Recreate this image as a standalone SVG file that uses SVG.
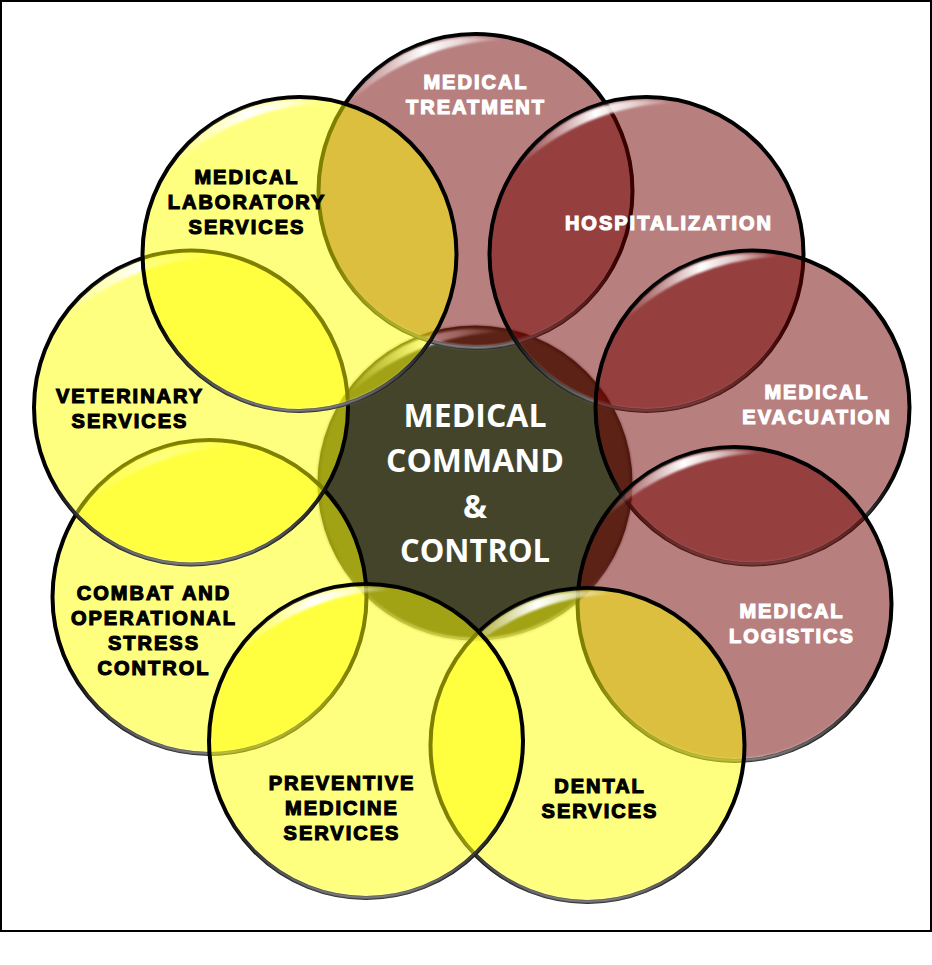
<svg xmlns="http://www.w3.org/2000/svg" width="932" height="965" viewBox="0 0 932 965">
<style>
.red{fill:#710000;fill-opacity:.5;stroke:#000;stroke-width:4}
.yel{fill:#ffff00;fill-opacity:.5;stroke:#000;stroke-width:4}
.lbl{font-family:"Liberation Sans",Arial,sans-serif;font-weight:700;font-size:20px;letter-spacing:2px;text-anchor:middle;stroke-width:1.2px}
.w{fill:#fff;stroke:#fff}
.k{fill:#000;stroke:#000}
.ctr{font-family:"Open Sans","Noto Sans",sans-serif;font-weight:700;font-size:32px;text-anchor:middle;fill:#fff}
</style>
<defs>
<linearGradient id="hl" x1="-130" y1="0" x2="28" y2="0" gradientUnits="userSpaceOnUse">
<stop offset="0" stop-color="#fff" stop-opacity="0"/>
<stop offset=".25" stop-color="#fff" stop-opacity=".45"/>
<stop offset=".5" stop-color="#fff" stop-opacity="1"/>
<stop offset=".72" stop-color="#fff" stop-opacity=".7"/>
<stop offset="1" stop-color="#fff" stop-opacity="0"/>
</linearGradient>
<linearGradient id="rim" x1="0" y1="-157" x2="0" y2="157" gradientUnits="userSpaceOnUse">
<stop offset=".72" stop-color="#fff" stop-opacity="0"/>
<stop offset="1" stop-color="#fff" stop-opacity=".6"/>
</linearGradient>
<filter id="b1" x="-20%" y="-20%" width="140%" height="140%"><feGaussianBlur stdDeviation="1"/></filter>
<g id="gloss">
<path d="M-130-85A154 154 0 0 1 28-151A235 235 0 0 0-130-85Z" fill="url(#hl)" filter="url(#b1)"/>
<circle r="156.5" fill="none" stroke="url(#rim)" stroke-width="3" filter="url(#b1)"/>
</g>
</defs>
<rect id="frame" x="1" y="1" width="930" height="930" fill="#fff" stroke="#000" stroke-width="2"/>
<g id="connectors"/>
<g id="node-center">
<circle cx="475" cy="483" r="157.5" fill="#44442a"/>
<circle cx="475" cy="483" r="156.5" fill="none" stroke="#000" stroke-opacity=".35" stroke-width="3" filter="url(#b1)"/>
<use href="#gloss" x="475" y="483"/>
</g>
<g id="node-treatment">
<circle class="red" cx="475.5" cy="191" r="157"/><use href="#gloss" x="475.5" y="191"/>
<text class="lbl w" x="476" y="88.5">MEDICAL</text><text class="lbl w" x="476" y="113.5">TREATMENT</text>
</g>
<g id="node-hospitalization">
<circle class="red" cx="646.5" cy="254" r="157"/><use href="#gloss" x="646.5" y="254"/>
<text class="lbl w" x="669" y="230">HOSPITALIZATION</text>
</g>
<g id="node-evacuation">
<circle class="red" cx="752.5" cy="407.5" r="157"/><use href="#gloss" x="752.5" y="407.5"/>
<text class="lbl w" x="817" y="399">MEDICAL</text><text class="lbl w" x="817" y="424">EVACUATION</text>
</g>
<g id="node-logistics">
<circle class="red" cx="734.5" cy="604" r="157"/><use href="#gloss" x="734.5" y="604"/>
<text class="lbl w" x="792" y="618">MEDICAL</text><text class="lbl w" x="792" y="643">LOGISTICS</text>
</g>
<g id="node-dental">
<circle class="yel" cx="587.5" cy="745" r="157"/><use href="#gloss" x="587.5" y="745"/>
<text class="lbl k" x="600" y="793">DENTAL</text><text class="lbl k" x="600" y="818">SERVICES</text>
</g>
<g id="node-combat">
<circle class="yel" cx="209.5" cy="597" r="157"/><use href="#gloss" x="209.5" y="597"/>
<text class="lbl k" x="154" y="600">COMBAT AND</text><text class="lbl k" x="154" y="625">OPERATIONAL</text><text class="lbl k" x="154" y="650">STRESS</text><text class="lbl k" x="154" y="675">CONTROL</text>
</g>
<g id="node-preventive">
<circle class="yel" cx="366" cy="741" r="157"/><use href="#gloss" x="366" y="741"/>
<text class="lbl k" x="342" y="790">PREVENTIVE</text><text class="lbl k" x="342" y="815">MEDICINE</text><text class="lbl k" x="342" y="840">SERVICES</text>
</g>
<g id="node-veterinary">
<circle class="yel" cx="191" cy="407.5" r="157"/><use href="#gloss" x="191" y="407.5"/>
<text class="lbl k" x="130" y="403">VETERINARY</text><text class="lbl k" x="130" y="428">SERVICES</text>
</g>
<g id="node-laboratory">
<circle class="yel" cx="299.5" cy="254" r="157"/><use href="#gloss" x="299.5" y="254"/>
<text class="lbl k" x="247" y="184">MEDICAL</text><text class="lbl k" x="247" y="209">LABORATORY</text><text class="lbl k" x="247" y="234">SERVICES</text>
</g>
<g id="center-label">
<text class="ctr" x="475" y="427">MEDICAL</text><text class="ctr" x="475" y="472">COMMAND</text><text class="ctr" x="475" y="518">&amp;</text><text class="ctr" x="475" y="562" textLength="150" lengthAdjust="spacingAndGlyphs">CONTROL</text>
</g>
</svg>
